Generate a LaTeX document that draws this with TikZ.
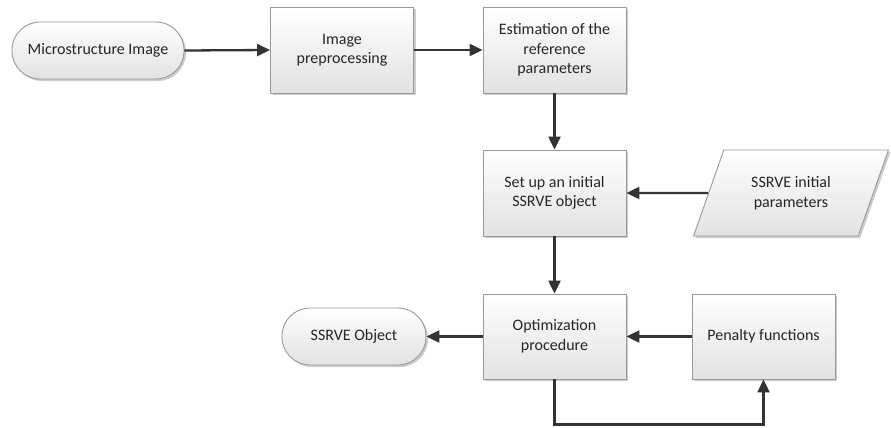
\documentclass[tikz,border=0pt]{standalone}
\usepackage{fontspec}
\setmainfont{Carlito}
\usetikzlibrary{arrows.meta,shapes.geometric,shadows}

\definecolor{inkgray}{HTML}{262626}
\definecolor{linegray}{HTML}{333333}
\definecolor{edgegray}{HTML}{999999}
\definecolor{shadegray}{HTML}{E2E2E2}

\tikzset{
  base/.style={draw=edgegray, line width=0.9pt, top color=white, bottom color=shadegray,
    text=inkgray, align=center, font=\fontsize{16}{19.5}\selectfont,
    drop shadow={shadow xshift=2pt, shadow yshift=-2pt, fill=black, opacity=0.2}},
  procbox/.style={base, rectangle, minimum width=143pt, minimum height=86pt, inner sep=2pt},
  terminal/.style={base, rectangle, rounded corners=28pt, minimum width=172pt, minimum height=57pt},
  datain/.style={base, trapezium, trapezium left angle=64, trapezium right angle=116,
    trapezium stretches=true, minimum width=195pt, minimum height=86pt},
  flow/.style={draw=linegray, line width=2.3pt, -{Triangle[length=13pt,width=12pt]}}
}

\begin{document}
\begin{tikzpicture}[x=1pt,y=-1pt]
  \useasboundingbox (0,0) rectangle (891,428);

  % top row
  \node[terminal] (mi) at (98,50.5) {Microstructure Image};
  \node[procbox] (ip) at (342,50) {Image\\preprocessing};
  \node[procbox] (est) at (554.5,50) {Estimation of the\\reference\\parameters};

  % middle row
  \node[procbox] (set) at (554.5,193) {Set up an initial\\SSRVE object};
  \node[datain] (par) at (791,193) {SSRVE initial\\parameters};

  % bottom row
  \node[terminal, minimum width=144pt] (so) at (354,336.5) {SSRVE Object};
  \node[procbox, minimum height=85pt] (opt) at (554.5,336.5) {Optimization\\procedure};
  \node[procbox, minimum height=85pt] (pen) at (763.5,336.5) {Penalty functions};

  % connectors
  \draw[flow] (mi.east) -- (ip.west);
  \draw[flow] (ip.east) -- (est.west);
  \draw[flow] (est.south) -- (set.north);
  \draw[flow] (par.west) -- (set.east);
  \draw[flow] (set.south) -- (opt.north);
  \draw[flow] (opt.west) -- (so.east);
  \draw[flow] (pen.west) -- (opt.east);
  \draw[flow] (opt.south) -- ++(0,45) -| (pen.south);
\end{tikzpicture}
\end{document}
